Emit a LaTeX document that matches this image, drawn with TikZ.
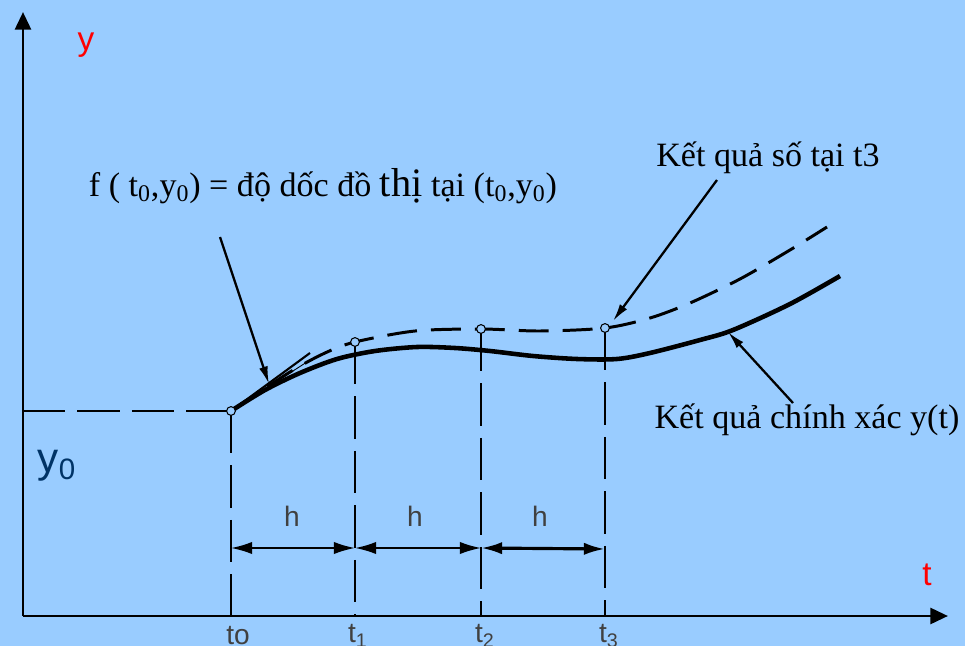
\documentclass[tikz,border=0pt]{standalone}
\usepackage{fontspec}
\setmainfont{Liberation Serif}
\setsansfont{Liberation Sans}
\definecolor{skyback}{RGB}{153,204,255}
\definecolor{deepblue}{RGB}{0,51,102}
\usetikzlibrary{arrows.meta,positioning}
\begin{document}
\begin{tikzpicture}[x=0.02cm, y=-0.02cm,
    axis/.style={line width=1.7pt, -{Triangle[length=10pt,width=9pt]}},
    guide/.style={line width=1.6pt, dash pattern=on 24pt off 7pt},
    span/.style={line width=1.1pt, {Latex[length=12pt,width=7pt]}-{Latex[length=12pt,width=7pt]}},
    leader/.style={line width=1.3pt, -{Latex[length=10pt,width=5pt]}},
    dot/.style={circle, draw, line width=0.6pt, fill=skyback, inner sep=0pt, minimum size=5pt},
    lbl/.style={font=\fontsize{19.4}{22}\selectfont},
    tick/.style={font=\sffamily\fontsize{16}{18}\selectfont, text=black!75}]
    \fill[skyback] (0,0) rectangle (965,646);
    \useasboundingbox (0,0) rectangle (965,646);

    % axes
    \coordinate (O) at (23,616);
    \coordinate (ytop) at (23,12);
    \coordinate (tend) at (948,616);
    \draw[axis] (O) -- (ytop);
    \draw[axis] (O) -- (tend);
    \node[text=red, font=\sffamily\fontsize{19}{22}\selectfont] (ylab) at (86,45) {y};
    \node[text=red, font=\sffamily\fontsize{19}{22}\selectfont] (tlab) at (927,575) {t};
    \node[text=deepblue, font=\sffamily\fontsize{24}{28}\selectfont] (y0lab) at (57,466) {y\textsubscript{0}};

    % grid points
    \coordinate (y0) at (23,411);
    \coordinate (P0) at (231,411);
    \coordinate (P1) at (355,342);
    \coordinate (P2) at (481,329);
    \coordinate (P3) at (605,328);
    \coordinate (B0) at (231,616);
    \coordinate (B1) at (355,616);
    \coordinate (B2) at (481,616);
    \coordinate (B3) at (605,616);
    \draw[guide] (y0) -- (P0);
    \draw[guide] (P0) -- (B0);
    \draw[guide] (P1) -- (B1);
    \draw[guide] (P2) -- (B2);
    \draw[guide] (P3) -- (B3);

    % exact solution
    \draw[line width=2.6pt] plot[smooth] coordinates {(231,411) (265,390) (300,373) (337,359) (375,351) (417,347) (455,348) (490,351) (533,356) (577,359) (617,359) (650,353) (700,340) (733,330) (790,304) (840,276)};
    % numerical solution
    \draw[line width=1.7pt, dash pattern=on 17pt off 8pt] plot[smooth] coordinates {(231,411) (290,372) (325,353) (355,342) (415,331) (481,329) (540,331) (605,328) (650,318) (690,303) (740,279) (790,250) (827,227)};
    % slope at t0
    \coordinate (s1) at (310,353);
    \coordinate (s2) at (310,360);
    \draw[line width=1.2pt] (P0) -- (s1);
    \draw[line width=0.5pt] (P0) -- (s2);

    \node[dot] at (P0) {};
    \node[dot] at (P1) {};
    \node[dot] at (P2) {};
    \node[dot] at (P3) {};

    % step widths
    \coordinate (h0) at (231,548);
    \coordinate (h1) at (355,548);
    \coordinate (h2) at (481,548);
    \coordinate (h3) at (605,549);
    \draw[span] (h0) -- (h1);
    \draw[span] (h1) -- (h2);
    \draw[span, line width=1.8pt] (h2) -- (h3);
    \node[tick] (hA) at (292,516) {h};
    \node[tick] (hB) at (415,516) {h};
    \node[tick] (hC) at (540,516) {h};
    \node[tick] (t0) at (238,636) {to};
    \node[tick] (t1) at (358,636) {t\textsubscript{1}};
    \node[tick] (t2) at (485,636) {t\textsubscript{2}};
    \node[tick] (t3) at (609,636) {t\textsubscript{3}};

    % labels
    \node[lbl] (slope) at (323,186) {f ( t\textsubscript{0},y\textsubscript{0}) = độ dốc đồ {\fontsize{23}{24}\selectfont thị} tại (t\textsubscript{0},y\textsubscript{0})};
    \node[lbl] (numres) at (768,158) {Kết quả số tại t3};
    \node[lbl] (exact) at (807,420) {Kết quả chính xác y(t)};
    \coordinate (fA) at (220,237);
    \coordinate (fB) at (269,384);
    \coordinate (nA) at (717,180);
    \coordinate (nB) at (613,321);
    \coordinate (eA) at (793,403);
    \coordinate (eB) at (728,332);
    \draw[leader] (fA) -- (fB);
    \draw[leader] (nA) -- (nB);
    \draw[leader] (eA) -- (eB);
\end{tikzpicture}
\end{document}
